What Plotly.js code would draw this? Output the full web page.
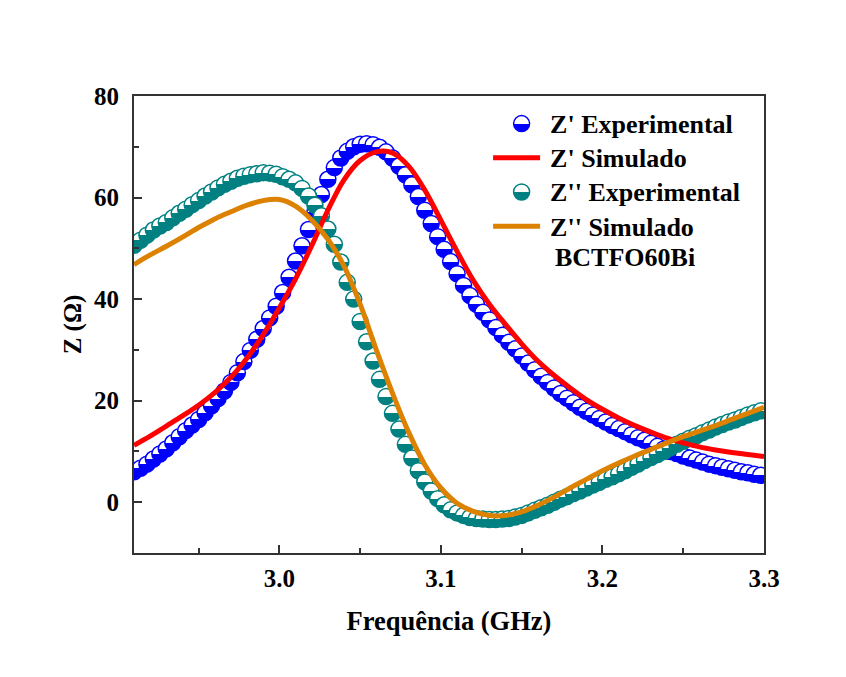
<!DOCTYPE html>
<html>
<head>
<meta charset="utf-8">
<script src="https://cdn.plot.ly/plotly-3.0.1.min.js"></script>
<style>html,body{margin:0;padding:0;background:#fff;}#chart{width:846px;height:677px;}</style>
</head>
<body>
<div id="chart"></div>
<script>
// Experimental frequency points (GHz)
var freqExp = [2.910,2.914,2.918,2.922,2.926,2.930,2.934,2.938,2.942,2.946,
2.950,2.954,2.958,2.962,2.966,2.970,2.974,2.978,2.982,2.986,
2.990,2.994,2.998,3.002,3.006,3.010,3.014,3.018,3.022,3.026,
3.030,3.034,3.038,3.042,3.046,3.050,3.054,3.058,3.062,3.066,
3.070,3.074,3.078,3.082,3.086,3.090,3.094,3.098,3.102,3.106,
3.110,3.114,3.118,3.122,3.126,3.130,3.134,3.138,3.142,3.146,
3.150,3.154,3.158,3.162,3.166,3.170,3.174,3.178,3.182,3.186,
3.190,3.194,3.198,3.202,3.206,3.210,3.214,3.218,3.222,3.226,
3.230,3.234,3.238,3.242,3.246,3.250,3.254,3.258,3.262,3.266,
3.270,3.274,3.278,3.282,3.286,3.290,3.294,3.298];

// Z' experimental (Ohm)
var zRealExp = [6.0,6.7,7.5,8.5,9.5,10.5,11.7,12.9,14.1,15.2,
16.3,17.6,19.0,20.4,21.9,23.6,25.5,27.7,29.9,32.1,
34.2,36.3,38.6,41.3,44.3,47.5,50.5,53.7,57.1,60.6,
63.6,65.9,67.8,69.1,70.0,70.5,70.6,70.4,69.9,69.0,
67.8,66.2,64.5,62.5,60.2,57.5,54.9,52.3,49.8,47.4,
45.0,42.7,40.7,39.0,37.4,35.9,34.4,32.9,31.5,30.2,
28.8,27.4,26.1,24.8,23.6,22.5,21.4,20.5,19.6,18.7,
17.9,17.2,16.5,15.8,15.1,14.5,13.9,13.3,12.7,12.2,
11.6,11.0,10.5,10.0,9.6,9.1,8.7,8.3,7.9,7.5,
7.2,6.9,6.6,6.3,6.0,5.8,5.5,5.3];

// Z'' experimental (Ohm)
var zImagExp = [50.6,51.6,52.6,53.6,54.4,55.1,56.0,56.9,57.7,58.6,
59.4,60.3,61.1,61.9,62.6,63.2,63.8,64.2,64.5,64.7,
64.9,64.8,64.6,64.1,63.6,62.9,61.8,60.3,58.5,56.4,
53.8,50.8,47.3,43.3,40.0,35.6,31.6,27.8,24.2,20.8,
17.5,14.4,11.4,8.7,6.2,4.0,2.2,0.7,-0.5,-1.5,
-2.1,-2.6,-3.0,-3.2,-3.3,-3.4,-3.4,-3.3,-3.2,-2.9,
-2.6,-2.1,-1.6,-1.1,-0.6,0.0,0.6,1.1,1.7,2.2,
2.8,3.4,3.9,4.5,5.0,5.6,6.2,6.9,7.5,8.2,
8.8,9.4,10.0,10.7,11.4,12.0,12.6,13.1,13.7,14.2,
14.8,15.3,15.8,16.2,16.7,17.2,17.6,18.0];

// Simulated frequency points (GHz)
var freqSim = [2.91,2.92,2.93,2.94,2.95,2.96,2.97,2.98,2.99,3.00,3.01,3.02,3.03,3.04,3.05,3.06,3.07,3.08,3.09,3.10,
3.11,3.12,3.13,3.14,3.15,3.16,3.17,3.18,3.19,3.20,3.21,3.22,3.23,3.24,3.25,3.26,3.27,3.28,3.29,3.30];

// Z' simulated (Ohm)
var zRealSim = [11.2,13.0,15.0,17.0,19.1,21.6,24.6,28.4,33.0,38.3,44.0,50.5,57.5,63.5,67.3,69.0,68.8,66.2,61.5,55.5,
49.4,43.7,39.0,35.0,31.2,27.8,25.0,22.5,20.2,18.3,16.6,15.1,13.8,12.6,11.7,10.9,10.3,9.8,9.4,9.0];

// Z'' simulated (Ohm)
var zImagSim = [46.8,48.7,50.4,52.2,54.1,55.8,57.2,58.5,59.4,59.6,58.3,55.6,51.8,46.5,39.0,30.0,21.5,13.8,7.4,2.8,
-0.2,-1.8,-2.6,-2.6,-1.9,-0.6,1.0,2.8,4.5,6.2,7.7,9.1,10.4,11.7,12.9,14.0,15.1,16.3,17.5,18.7];

var seriesNames = ["Z' Experimental", "Z'' Experimental", "Z' Simulado", "Z'' Simulado"];
var sampleLabel = 'BCTFO60Bi';
var xTickVals = [3.0,3.1,3.2,3.3];
var xTickText = ['3.0','3.1','3.2','3.3'];
var yTickVals = [0,20,40,60,80];

var serif = 'Liberation Serif, Times New Roman, serif';
function big(t) { return '<span style="font-size:26px">' + t + '</span>'; }

var traces = [
  {x: freqExp, y: zRealExp, name: big(seriesNames[0]), mode: 'markers', type: 'scatter', legendrank: 1,
   marker: {symbol: 'circle', size: 16, color: '#ffffff', gradient: {type: 'vertical', color: '#0000ff'},
            line: {color: '#0000ff', width: 1.5}}},
  {x: freqExp, y: zImagExp, name: big(seriesNames[1]), mode: 'markers', type: 'scatter', legendrank: 3,
   marker: {symbol: 'circle', size: 16, color: '#ffffff', gradient: {type: 'vertical', color: '#008080'},
            line: {color: '#008080', width: 1.5}}},
  {x: freqSim, y: zRealSim, name: big(seriesNames[2]), mode: 'lines', type: 'scatter', legendrank: 2,
   line: {color: '#ff0000', width: 5, shape: 'spline', smoothing: 1}},
  {x: freqSim, y: zImagSim, name: big(seriesNames[3]), mode: 'lines', type: 'scatter', legendrank: 4,
   line: {color: '#dc8200', width: 5, shape: 'spline', smoothing: 1}}
];

var axisCommon = {
  showline: true, mirror: true, linecolor: '#333333', linewidth: 2,
  ticks: 'inside', ticklen: 8, tickwidth: 2, tickcolor: '#333333',
  showgrid: false, zeroline: false,
  tickfont: {family: serif, size: 25, color: '#000', weight: 'bold'}
};

var layout = {
  width: 846, height: 677,
  margin: {l: 134, r: 82, t: 96, b: 124},
  paper_bgcolor: '#ffffff', plot_bgcolor: '#ffffff',
  showlegend: true,
  legend: {x: 0.57, y: 0.988, xanchor: 'left', yanchor: 'top', bgcolor: 'rgba(0,0,0,0)',
           font: {family: serif, size: 24, color: '#000', weight: 'bold'}, itemwidth: 47, tracegroupgap: 0},
  xaxis: Object.assign({}, axisCommon, {
    range: [2.91, 3.3], tickvals: xTickVals, ticktext: xTickText, ticklabelstandoff: 2,
    minor: {dtick: 0.05, tick0: 3.0, ticks: 'inside', ticklen: 5, tickwidth: 2, tickcolor: '#333333'},
    title: {text: 'Frequência (GHz)', standoff: 20, font: {family: serif, size: 26.5, color: '#000', weight: 'bold'}}
  }),
  yaxis: Object.assign({}, axisCommon, {
    range: [-10, 80], tickvals: yTickVals, ticklabelstandoff: 8,
    minor: {dtick: 10, tick0: 0, ticks: 'inside', ticklen: 5, tickwidth: 2, tickcolor: '#333333'},
    title: {text: 'Z (Ω)', standoff: 5, font: {family: serif, size: 25, color: '#000', weight: 'bold'}}
  }),
  annotations: [{
    text: sampleLabel, xref: 'paper', yref: 'paper', x: 0.665, y: 0.647,
    xanchor: 'left', yanchor: 'middle', showarrow: false,
    font: {family: serif, size: 26, color: '#000', weight: 'bold'}
  }]
};

Plotly.newPlot('chart', traces, layout, {displayModeBar: false, staticPlot: true}).then(function () {
  // make the marker gradients a sharp half/half split (half-filled circles)
  var grads = document.querySelectorAll('#chart linearGradient');
  grads.forEach(function (g) {
    var stops = g.querySelectorAll('stop');
    if (stops.length !== 2) return;
    var a = stops[0], b = stops[1];
    var a2 = a.cloneNode(true); a2.setAttribute('offset', '50%');
    var b2 = b.cloneNode(true); b2.setAttribute('offset', '50%');
    g.insertBefore(a2, b);
    g.insertBefore(b2, b);
  });
  // longer legend lines
  document.querySelectorAll('#chart .legend path.js-line').forEach(function (p) {
    p.setAttribute('d', 'M-8,0h55');
  });
});
</script>
</body>
</html>
